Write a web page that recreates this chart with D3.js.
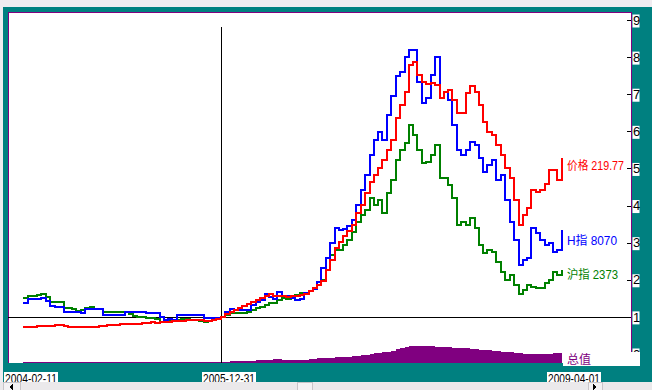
<!DOCTYPE html>
<html>
<head>
<meta charset="utf-8">
<script src="https://cdn.jsdelivr.net/npm/d3@7"></script>
<style>
  body { margin: 0; background: #f0ecf0; }
  svg { display: block; }
  text { font-family: "Liberation Sans", "Noto Sans CJK SC", sans-serif; }
</style>
</head>
<body>
<svg id="chart"></svg>
<script>
// semi-monthly sample dates (1st and 15th), first and last trading day included
const dates = [new Date(2004, 1, 11)];
d3.timeMonth.range(new Date(2004, 2, 1), new Date(2009, 3, 1)).forEach(m => {
    dates.push(m);
    dates.push(d3.timeDay.offset(m, 14));
});
dates.push(new Date(2009, 3, 1));

const baseDate = new Date(2005, 11, 31);

// 价格 (red)
const priceVals = [
    0.73,0.73,0.73,0.76,0.76,0.76,0.76,0.77,0.77,0.76,0.74,0.73,0.73,0.73,0.73,0.74,0.74,0.76,0.76,0.77,0.78,
    0.78,0.80,0.81,0.81,0.82,0.82,0.84,0.84,0.85,0.84,0.85,0.87,0.87,0.88,0.88,0.89,0.92,0.92,0.92,0.92,0.88,0.88,0.92,0.95,
    1.00,1.08,1.13,1.19,1.24,1.30,1.35,1.40,1.46,1.51,1.57,1.62,1.57,1.57,1.57,1.54,1.57,1.57,1.59,1.62,1.70,1.78,1.86,1.97,
    2.27,2.54,2.86,3.02,3.18,3.32,3.48,3.80,4.02,4.34,4.64,4.83,5.02,5.23,5.50,5.77,6.36,6.71,7.06,7.79,7.87,7.52,7.33,7.28,
    7.31,7.25,6.90,7.06,7.12,6.85,6.50,6.50,7.04,7.23,7.06,6.71,6.26,5.99,5.91,5.64,5.37,5.02,4.75,4.15,3.48,3.75,3.94,4.42,
    4.37,4.42,4.58,4.96,4.96,4.69,5.29
];
// H指 (blue)
const hIndexVals = [
    1.38,1.49,1.49,1.49,1.51,1.43,1.30,1.27,1.27,1.13,1.13,1.13,1.13,1.11,1.22,1.22,1.22,1.22,1.05,1.05,1.05,
    1.05,1.05,1.13,1.13,1.13,1.13,1.13,1.11,1.11,1.11,1.00,0.92,0.95,0.92,1.05,1.05,1.05,1.05,1.05,1.05,0.97,0.97,0.97,0.97,
    1.00,1.13,1.22,1.19,1.19,1.19,1.19,1.32,1.40,1.46,1.62,1.54,1.49,1.67,1.57,1.57,1.51,1.46,1.49,1.65,1.70,1.75,1.94,2.32,
    2.59,3.00,3.40,3.35,3.37,3.45,3.61,4.02,4.42,4.83,5.37,5.77,5.99,5.77,6.44,6.96,7.50,7.60,8.01,8.20,8.20,7.33,6.77,6.90,
    7.52,8.01,6.90,7.06,6.85,6.18,5.50,5.37,5.50,5.72,5.64,5.29,4.91,5.10,5.23,4.69,4.83,4.15,3.56,3.08,2.40,2.54,2.59,3.40,
    3.26,3.08,2.94,3.00,2.75,2.81,3.35
];
// 沪指 (green)
const shIndexVals = [
    1.51,1.57,1.57,1.59,1.62,1.54,1.40,1.40,1.40,1.24,1.24,1.22,1.16,1.19,1.24,1.27,1.22,1.22,1.13,1.13,1.13,
    1.13,1.13,1.13,1.08,1.03,1.00,1.00,0.97,0.97,0.95,0.87,0.92,0.89,0.89,0.92,0.95,0.95,0.92,0.92,0.89,0.87,0.89,0.92,0.95,
    1.00,1.05,1.11,1.11,1.11,1.11,1.13,1.19,1.24,1.27,1.32,1.38,1.38,1.46,1.51,1.49,1.51,1.59,1.65,1.65,1.70,1.75,1.86,2.00,
    2.27,2.67,2.81,2.81,2.94,3.08,3.29,3.56,3.75,3.88,4.21,4.02,4.15,3.80,4.34,4.69,5.23,5.50,5.69,6.18,5.91,5.50,5.15,5.18,
    5.37,5.64,4.75,4.75,4.56,4.21,3.48,3.56,3.48,3.67,3.40,2.94,2.73,2.81,2.75,2.48,2.21,2.00,2.13,1.86,1.62,1.73,1.86,1.81,
    1.78,1.78,1.92,2.00,2.21,2.13,2.27
];
// 总值 (purple area, relative units)
const totalVals = [
    1,1,1,1,1,1,1,1,1,1,1,1,1,1,1,1,1,1,1,1,1,
    1,1,1,1,1,1,1,1,1,1,1,1,1,1,1,1,1,1,1,1,1,1,1,1,
    1.5,1.5,2,2,2,2,2.5,2.5,3,3,3.5,3.5,4,4,3.5,3.5,3,3,3,3.5,4,4.5,5,5,
    5.5,5.5,6,6,6.5,6.5,7,7.5,8,8.5,9.5,10,10.5,11,11,12,14,15,16,17,17,17.5,17,17,
    17,16.5,16.5,16,16,15.5,15.5,15,15,14.5,14,13.5,13,13,12.5,12,11.5,11,11,10.5,10,9.5,9.5,9,
    9,9,9,9.5,10,10,10
];

const yTicks = [0, 1, 2, 3, 4, 5, 6, 7, 8, 9];
const dateLabels = ["2004-02-11", "2005-12-31", "2009-04-01"];
const seriesNames = ["价格 219.77", "H指 8070", "沪指 2373", "总值"];

const teal = "#008080", purple = "#800080";
const W = 652, H = 390;

const svg = d3.select("#chart").attr("width", W).attr("height", H);

const x = d3.scaleTime()
    .domain([dates[0], dates[dates.length - 1]])
    .range([23, 562]);
const y = d3.scaleLinear().domain([0, 9]).range([354, 20]);
const yTotal = d3.scaleLinear().domain([0, 20]).range([363, 343]);

// frame
svg.append("rect").attr("width", W).attr("height", H).attr("fill", "#f0ecf0");
svg.append("rect").attr("x", 3).attr("y", 7).attr("width", W - 3).attr("height", 375).attr("fill", teal);
svg.append("rect").attr("x", 8).attr("y", 12).attr("width", 623).attr("height", 351).attr("fill", "#fff");

const border = svg.append("g").attr("stroke", purple).attr("shape-rendering", "crispEdges");
border.append("line").attr("x1", 8).attr("x2", 631.5).attr("y1", 12.5).attr("y2", 12.5);
border.append("line").attr("x1", 8.5).attr("x2", 8.5).attr("y1", 12).attr("y2", 363);
border.append("line").attr("x1", 631.5).attr("x2", 631.5).attr("y1", 12).attr("y2", 352);

// 总值 area
const area = d3.area()
    .x((d, i) => x(dates[i]))
    .y0(yTotal(0))
    .y1(d => yTotal(d))
    .curve(d3.curveStepAfter);
svg.append("path").datum(totalVals)
    .attr("d", area)
    .attr("fill", purple)
    .attr("shape-rendering", "crispEdges");

// reference lines
svg.append("line")
    .attr("x1", 8).attr("x2", 631)
    .attr("y1", Math.round(y(1)) + 0.5).attr("y2", Math.round(y(1)) + 0.5)
    .attr("stroke", "#000").attr("shape-rendering", "crispEdges");
svg.append("line")
    .attr("x1", Math.round(x(baseDate)) + 0.5).attr("x2", Math.round(x(baseDate)) + 0.5)
    .attr("y1", 27).attr("y2", 363)
    .attr("stroke", "#000").attr("shape-rendering", "crispEdges");

// series lines
const line = d3.line()
    .x((d, i) => x(dates[i]))
    .y(d => y(d))
    .curve(d3.curveStepAfter);

[[shIndexVals, "#008000"], [hIndexVals, "#0000ff"], [priceVals, "#ff0000"]].forEach(([vals, color]) => {
    svg.append("path").datum(vals)
        .attr("d", line)
        .attr("fill", "none")
        .attr("stroke", color)
        .attr("stroke-width", 2)
        .attr("shape-rendering", "crispEdges");
});

// right axis
const axis = svg.append("g")
    .attr("transform", "translate(631,0)")
    .call(d3.axisRight(y).tickValues(yTicks).tickSizeInner(-4).tickSizeOuter(0).tickPadding(2));
axis.select(".domain").remove();
axis.selectAll(".tick line").attr("stroke", "#000").attr("shape-rendering", "crispEdges");
axis.selectAll(".tick").insert("rect", "text")
    .attr("x", 1.5).attr("y", -6).attr("width", 7).attr("height", 13).attr("fill", "#fff");
axis.selectAll(".tick text")
    .attr("fill", "#000")
    .style("font-size", "13px")
    .style("font-family", "Liberation Sans");

// series labels
const lx = x(dates[dates.length - 1]) + 5;
const labelSpecs = [
    { name: seriesNames[0], color: "#ff0000", y: y(priceVals[priceVals.length - 1]) + 12, len: 57 },
    { name: seriesNames[1], color: "#0000ff", y: y(hIndexVals[hIndexVals.length - 1]) + 15, len: 50 },
    { name: seriesNames[2], color: "#008000", y: y(shIndexVals[shIndexVals.length - 1]) + 9, len: 51 }
];
labelSpecs.forEach(s => {
    svg.append("text")
        .attr("x", lx).attr("y", s.y)
        .attr("fill", s.color)
        .style("font-size", "12px")
        .attr("textLength", s.len)
        .attr("lengthAdjust", "spacingAndGlyphs")
        .text(s.name);
});

// 总值 label box
svg.append("rect").attr("x", 563).attr("y", 352).attr("width", 77).attr("height", 14).attr("fill", "#fff");
svg.append("text")
    .attr("x", lx).attr("y", 364)
    .attr("fill", purple)
    .style("font-size", "12px")
    .text(seriesNames[3]);

// date labels
const labelDates = dateLabels.map(s => d3.timeParse("%Y-%m-%d")(s));
labelDates.forEach((d, i) => {
    const left = i === labelDates.length - 1 ? x(d) - 15 : x(d) - 19;
    svg.append("rect").attr("x", Math.round(left)).attr("y", 372).attr("width", 54).attr("height", 12).attr("fill", "#fff");
    svg.append("text")
        .attr("x", Math.round(left) + 1).attr("y", 383)
        .attr("fill", "#000")
        .style("font-size", "12px")
        .attr("textLength", 52)
        .attr("lengthAdjust", "spacingAndGlyphs")
        .text(dateLabels[i]);
});

// scrollbar strip
const sb = svg.append("g").attr("shape-rendering", "crispEdges");
sb.append("rect").attr("x", 0).attr("y", 382).attr("width", W).attr("height", 8).attr("fill", "#ebe9eb");
[[3, 17], [297, 15], [588, 14]].forEach(([bx, bw]) => {
    sb.append("rect").attr("x", bx + 0.5).attr("y", 382.5).attr("width", bw).attr("height", 9)
        .attr("fill", "#f4f2f4").attr("stroke", "#c8c4c8");
});
sb.append("path").attr("d", "M9,387 L13,384 L13,390 Z").attr("fill", "#000");
sb.append("path").attr("d", "M597,387 L593,384 L593,390 Z").attr("fill", "#000");
</script>
</body>
</html>
